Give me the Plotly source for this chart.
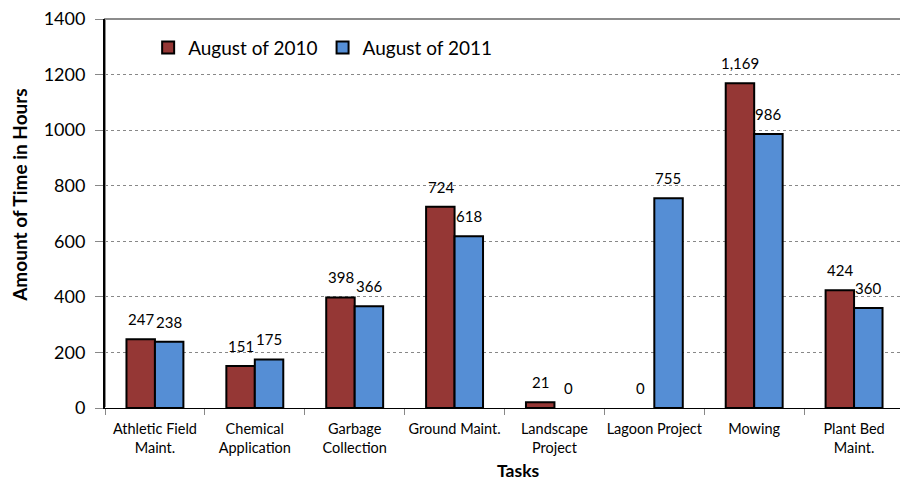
import plotly.graph_objects as go

# categories and hours per task
tasks = [
    "Athletic Field<br>Maint.",
    "Chemical<br>Application",
    "Garbage<br>Collection",
    "Ground Maint.",
    "Landscape<br>Project",
    "Lagoon Project",
    "Mowing",
    "Plant Bed<br>Maint.",
]
aug_2010 = [247, 151, 398, 724, 21, 0, 1169, 424]
aug_2011 = [238, 175, 366, 618, 0, 755, 986, 360]

font_name = "Lato, Open Sans, sans-serif"

fig = go.Figure()
for name, vals, color in [("August of 2010", aug_2010, "#953735"),
                          ("August of 2011", aug_2011, "#558ED5")]:
    fig.add_trace(go.Bar(
        x=tasks, y=vals, name=name,
        marker=dict(color=color, line=dict(color="black",
                                           width=[2 if v > 0 else 0 for v in vals])),
    ))

# data labels sit a bit higher above the bars than plotly's own outside text
annotations = []
for vals, shift in [(aug_2010, -14), (aug_2011, 14)]:
    for t, v in zip(tasks, vals):
        annotations.append(dict(
            x=t, y=v, xref="x", yref="y", text=f"{v:,}", showarrow=False,
            xshift=shift, yshift=20, font=dict(size=15, color="black"),
        ))

# axis titles placed as annotations (not centred on the plot in the reference)
annotations.append(dict(
    x=0, y=0.548, xref="paper", yref="paper", xshift=-85, textangle=-90,
    xanchor="center", yanchor="middle", borderpad=0,
    text="<b>Amount of Time in Hours</b>", showarrow=False,
    font=dict(size=19, color="black"),
))
annotations.append(dict(
    x=0.517, y=0, xref="paper", yref="paper", yshift=-62,
    xanchor="center", yanchor="middle", borderpad=0,
    text="<b>Tasks</b>", showarrow=False, font=dict(size=17.5, color="black"),
))

# page body has an 8px margin, so the figure is sized 8px smaller
fig.update_layout(
    width=900, height=473,
    margin=dict(l=97, r=4, t=11, b=73),
    paper_bgcolor="white", plot_bgcolor="white",
    font=dict(family=font_name, color="black"),
    barmode="group", bargap=0.43, bargroupgap=0,
    legend=dict(
        orientation="h", x=0.054, y=0.975, xanchor="left", yanchor="top",
        font=dict(size=19), bgcolor="rgba(0,0,0,0)",
    ),
    annotations=annotations,
    shapes=[dict(
        type="rect", xref="paper", yref="paper", x0=0, x1=1, y0=0, y1=1,
        line=dict(color="#8c8c8c", width=2), layer="below",
    )],
)

fig.update_xaxes(
    automargin=False, tickangle=0,
    showline=True, linecolor="black", linewidth=1,
    ticks="outside", tickson="boundaries", ticklen=6, tickcolor="#888",
    ticklabelstandoff=8, tickfont=dict(size=14.5),
)
fig.update_yaxes(
    automargin=False,
    range=[0, 1400], dtick=200,
    showline=True, linecolor="black", linewidth=2,
    ticks="outside", ticklen=8, tickcolor="#888", ticklabelstandoff=6,
    ticklabeloverflow="allow", tickfont=dict(size=18),
    showgrid=True, gridcolor="#888", griddash="dot", gridwidth=1,
)

fig.write_html("out.html")
